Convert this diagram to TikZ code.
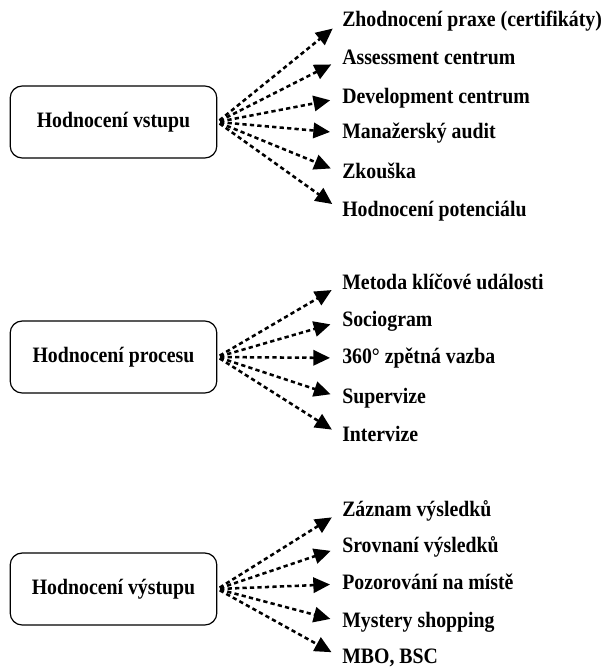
\documentclass[tikz,border=0pt]{standalone}
\usepackage{fontspec}
\setmainfont{Liberation Serif}[FakeStretch=0.9]
\usetikzlibrary{arrows.meta}

\begin{document}
\begin{tikzpicture}[x=0.75pt, y=-0.75pt,
    box/.style={draw, rounded corners=9pt, line width=0.9pt, minimum width=155pt, minimum height=54pt, inner sep=0pt, font=\fontsize{16.5}{19}\selectfont\bfseries},
    item/.style={anchor=west, inner sep=0pt, text height=11pt, text depth=3pt, font=\fontsize{16.5}{19}\selectfont\bfseries},
    link/.style={line width=1.9pt, dash pattern=on 3.2pt off 2.4pt, -{Triangle[length=12.5pt, width=11.5pt]}, shorten >=9pt, shorten <=2pt}]

    \useasboundingbox (0, 0) rectangle (611, 667);

    % input
    \node[box] (vstup) at (113.5, 122) {Hodnocení vstupu};
    \node[item] (v1) at (342, 21) {Zhodnocení praxe (certifikáty)};
    \node[item] (v2) at (342, 59) {Assessment centrum};
    \node[item] (v3) at (342, 98) {Development centrum};
    \node[item] (v4) at (342, 133) {Manažerský audit};
    \node[item] (v5) at (342, 173) {Zkouška};
    \node[item] (v6) at (342, 211) {Hodnocení potenciálu};
    \foreach \i in {1,...,6} {
        \draw[link] (vstup.east) -- (v\i.west);
    }

    % process
    \node[box] (proces) at (113.5, 357) {Hodnocení procesu};
    \node[item] (p1) at (342, 284) {Metoda klíčové události};
    \node[item] (p2) at (342, 321) {Sociogram};
    \node[item] (p3) at (342, 358) {360° zpětná vazba};
    \node[item] (p4) at (342, 398) {Supervize};
    \node[item] (p5) at (342, 436) {Intervize};
    \foreach \i in {1,...,5} {
        \draw[link] (proces.east) -- (p\i.west);
    }

    % output
    \node[box] (vystup) at (113.5, 589) {Hodnocení výstupu};
    \node[item] (o1) at (342, 511) {Záznam výsledků};
    \node[item] (o2) at (342, 547) {Srovnaní výsledků};
    \node[item] (o3) at (342, 584) {Pozorování na místě};
    \node[item] (o4) at (342, 622) {Mystery shopping};
    \node[item] (o5) at (342, 658) {MBO, BSC};
    \foreach \i in {1,...,5} {
        \draw[link] (vystup.east) -- (o\i.west);
    }

\end{tikzpicture}
\end{document}
